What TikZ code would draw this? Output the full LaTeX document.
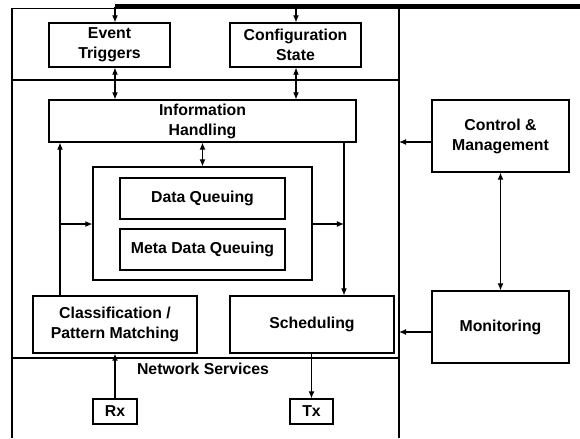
\documentclass[tikz,border=0pt]{standalone}
\usepackage{fontspec}
\setmainfont{Liberation Sans}
\usetikzlibrary{arrows.meta}
\begin{document}
\begin{tikzpicture}[x=0.03cm,y=-0.03cm,
  box/.style={draw=black,line width=1pt,fill=white,inner sep=0pt,align=center,
    font=\fontsize{13.5}{17}\selectfont\bfseries},
  lbl/.style={inner sep=0pt,font=\fontsize{13.5}{17}\selectfont\bfseries},
  ln/.style={line width=1pt,draw=black},
  arr/.style={ln,-{Latex[length=6pt,width=5pt]}},
  darr/.style={ln,{Latex[length=6pt,width=5pt]}-{Latex[length=6pt,width=5pt]}}]
\useasboundingbox (0,0) rectangle (580,438);
% frame and separators
\coordinate (fTL) at (12,8.5);
\coordinate (fTR) at (399,8.5);
\coordinate (fBL) at (12,438);
\coordinate (fBR) at (399,438);
\coordinate (s1L) at (12,80);
\coordinate (s1R) at (399,80);
\coordinate (s2L) at (12,358);
\coordinate (s2R) at (399,358);
\draw[ln] (fBL) -- (fTL) -- (fTR) -- (fBR);
\draw[ln] (s1L) -- (s1R);
\draw[ln] (s2L) -- (s2R);
% thick top bus
\coordinate (bus1) at (115,6.5);
\coordinate (bus2) at (296,6.5);
\coordinate (busE) at (580,6.5);
\draw[line width=4.2pt] (bus1) -- (busE);
% boxes
\node[box,minimum width=3.63cm,minimum height=1.32cm] (evt) at (109.5,45) {Event\\Triggers};
\node[box,minimum width=3.93cm,minimum height=1.32cm] (cfg) at (295.5,45) {Configuration\\State};
\node[box,minimum width=9.21cm,minimum height=1.26cm] (info) at (202.5,121) {Information\\Handling};
\node[box,minimum width=6.57cm,minimum height=3.39cm] (cont) at (202.5,223.5) {};
\node[box,minimum width=4.95cm,minimum height=1.23cm] (dq) at (202.5,198.5) {Data Queuing};
\node[box,minimum width=4.95cm,minimum height=1.23cm] (mdq) at (202.5,249.5) {Meta Data Queuing};
\node[box,minimum width=4.92cm,minimum height=1.71cm] (cls) at (115,324.5) {Classification /\\Pattern Matching};
\node[box,minimum width=4.92cm,minimum height=1.71cm] (sch) at (312,324.5) {Scheduling};
\node[lbl] (net) at (203,369) {Network Services};
\node[box,minimum width=1.32cm,minimum height=0.75cm] (rx) at (115,411.5) {Rx};
\node[box,minimum width=1.29cm,minimum height=0.75cm] (tx) at (311.5,411.5) {Tx};
\node[box,minimum width=4.11cm,minimum height=2.16cm] (cm) at (500.5,136) {Control \&\\Management};
\node[box,minimum width=4.11cm,minimum height=2.16cm] (mon) at (500.5,327) {Monitoring};
% helper coordinates
\coordinate (xl) at (60,224);
\coordinate (xr) at (344,224);
\coordinate (cmIn) at (399,142);
\coordinate (monIn) at (399,332);
% connectors
\draw[arr] (bus1) -- (bus1 |- evt.north);
\draw[arr] (bus2) -- (bus2 |- cfg.north);
\draw[darr] (bus1 |- evt.south) -- (bus1 |- info.north);
\draw[darr] (bus2 |- cfg.south) -- (bus2 |- info.north);
\draw[darr] (info.south) -- (cont.north);
\draw[arr] (xl |- cls.north) -- (xl |- info.south);
\draw[arr] (xl) -- (cont.west |- xl);
\draw[arr] (xr |- info.south) -- (xr |- sch.north);
\draw[arr] (cont.east |- xr) -- (xr);
\draw[arr] (rx.north) -- (rx.north |- cls.south);
\draw[arr] (tx.north |- sch.south) -- (tx.north);
\draw[arr] (cm.west |- cmIn) -- (cmIn);
\draw[arr] (mon.west |- monIn) -- (monIn);
\draw[darr] (cm.south) -- (mon.north);
\end{tikzpicture}
\end{document}
